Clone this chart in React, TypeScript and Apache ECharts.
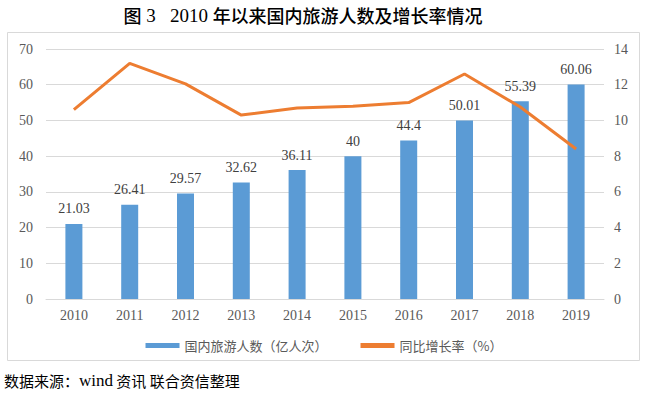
import React, { useEffect, useRef } from "react";
import * as echarts from "echarts";

const years = ["2010", "2011", "2012", "2013", "2014", "2015", "2016", "2017", "2018", "2019"];
const tourists = [21.03, 26.41, 29.57, 32.62, 36.11, 40, 44.4, 50.01, 55.39, 60.06];
const growth = [10.6, 13.2, 12.05, 10.3, 10.7, 10.8, 11.0, 12.6, 10.75, 8.4];
const barName = "国内旅游人数（亿人次）";
const lineName = "同比增长率（%）";
const titleParts = ["图", " 3   2010 ", "年以来国内旅游人数及增长率情况"];
const sourceParts = ["数据来源：", "wind", " 资讯 联合资信整理"];

export default function App() {
  const ref = useRef<HTMLDivElement>(null);
  useEffect(() => {
    if (!ref.current) return;
    const chart = echarts.init(ref.current, null, { renderer: "svg" });
    const serif = "'Liberation Serif', 'Times New Roman', serif";
    const cjk = "'Noto Sans CJK SC', sans-serif";
    chart.setOption({
      animation: false,
      backgroundColor: "#ffffff",
      graphic: [
        {
          type: "rect",
          shape: { x: 7.5, y: 32.5, width: 632, height: 328 },
          style: { fill: "none", stroke: "#D9D9D9", lineWidth: 1 },
          z: -1,
        },
        {
          type: "text",
          x: 303,
          y: 15,
          style: {
            text: `{c|${titleParts[0]}}{n|${titleParts[1]}}{c|${titleParts[2]}}`,
            align: "center",
            verticalAlign: "middle",
            rich: {
              c: { fontFamily: cjk, fontWeight: 500, fontSize: 18, fill: "#000000", color: "#000000" },
              n: { fontFamily: serif, fontWeight: "normal", fontSize: 19, fill: "#000000", color: "#000000" },
            },
          },
        },
        {
          type: "text",
          x: 4,
          y: 380,
          style: {
            text: `{c|${sourceParts[0]}}{n|${sourceParts[1]}}{c|${sourceParts[2]}}`,
            align: "left",
            verticalAlign: "middle",
            rich: {
              c: { fontFamily: cjk, fontSize: 15, fill: "#000000", color: "#000000" },
              n: { fontFamily: serif, fontSize: 17, fill: "#000000", color: "#000000" },
            },
          },
        },
      ],
      grid: { left: 46, right: 44, top: 49, bottom: 98 },
      legend: {
        data: [
          { name: barName, icon: "rect" },
          { name: lineName, icon: "rect" },
        ],
        left: "center",
        top: 334,
        itemWidth: 34,
        itemHeight: 5,
        itemGap: 33,
        textStyle: { fontFamily: cjk, fontSize: 13, color: "#595959" },
      },
      xAxis: {
        type: "category",
        data: years,
        axisLine: { lineStyle: { color: "#D9D9D9" } },
        axisTick: { show: false },
        axisLabel: { color: "#595959", fontFamily: serif, fontSize: 14, margin: 9 },
      },
      yAxis: [
        {
          type: "value",
          min: 0,
          max: 70,
          interval: 10,
          axisLine: { show: false },
          axisTick: { show: false },
          axisLabel: { color: "#595959", fontFamily: serif, fontSize: 14, margin: 13 },
          splitLine: { lineStyle: { color: "#D9D9D9" } },
        },
        {
          type: "value",
          min: 0,
          max: 14,
          interval: 2,
          axisLine: { show: false },
          axisTick: { show: false },
          axisLabel: { color: "#595959", fontFamily: serif, fontSize: 14, margin: 10 },
          splitLine: { show: false },
        },
      ],
      series: [
        {
          name: barName,
          type: "bar",
          data: tourists,
          barWidth: 17,
          itemStyle: { color: "#5B9BD5" },
          label: {
            show: true,
            position: "top",
            distance: 8,
            color: "#404040",
            fontFamily: serif,
            fontSize: 14,
          },
        },
        {
          name: lineName,
          type: "line",
          yAxisIndex: 1,
          data: growth,
          symbol: "none",
          lineStyle: { color: "#ED7D31", width: 3 },
          itemStyle: { color: "#ED7D31" },
          z: 3,
        },
      ],
    });
    return () => chart.dispose();
  }, []);
  return <div ref={ref} style={{ width: 648, height: 397, position: "absolute", left: 0, top: 0 }} />;
}
